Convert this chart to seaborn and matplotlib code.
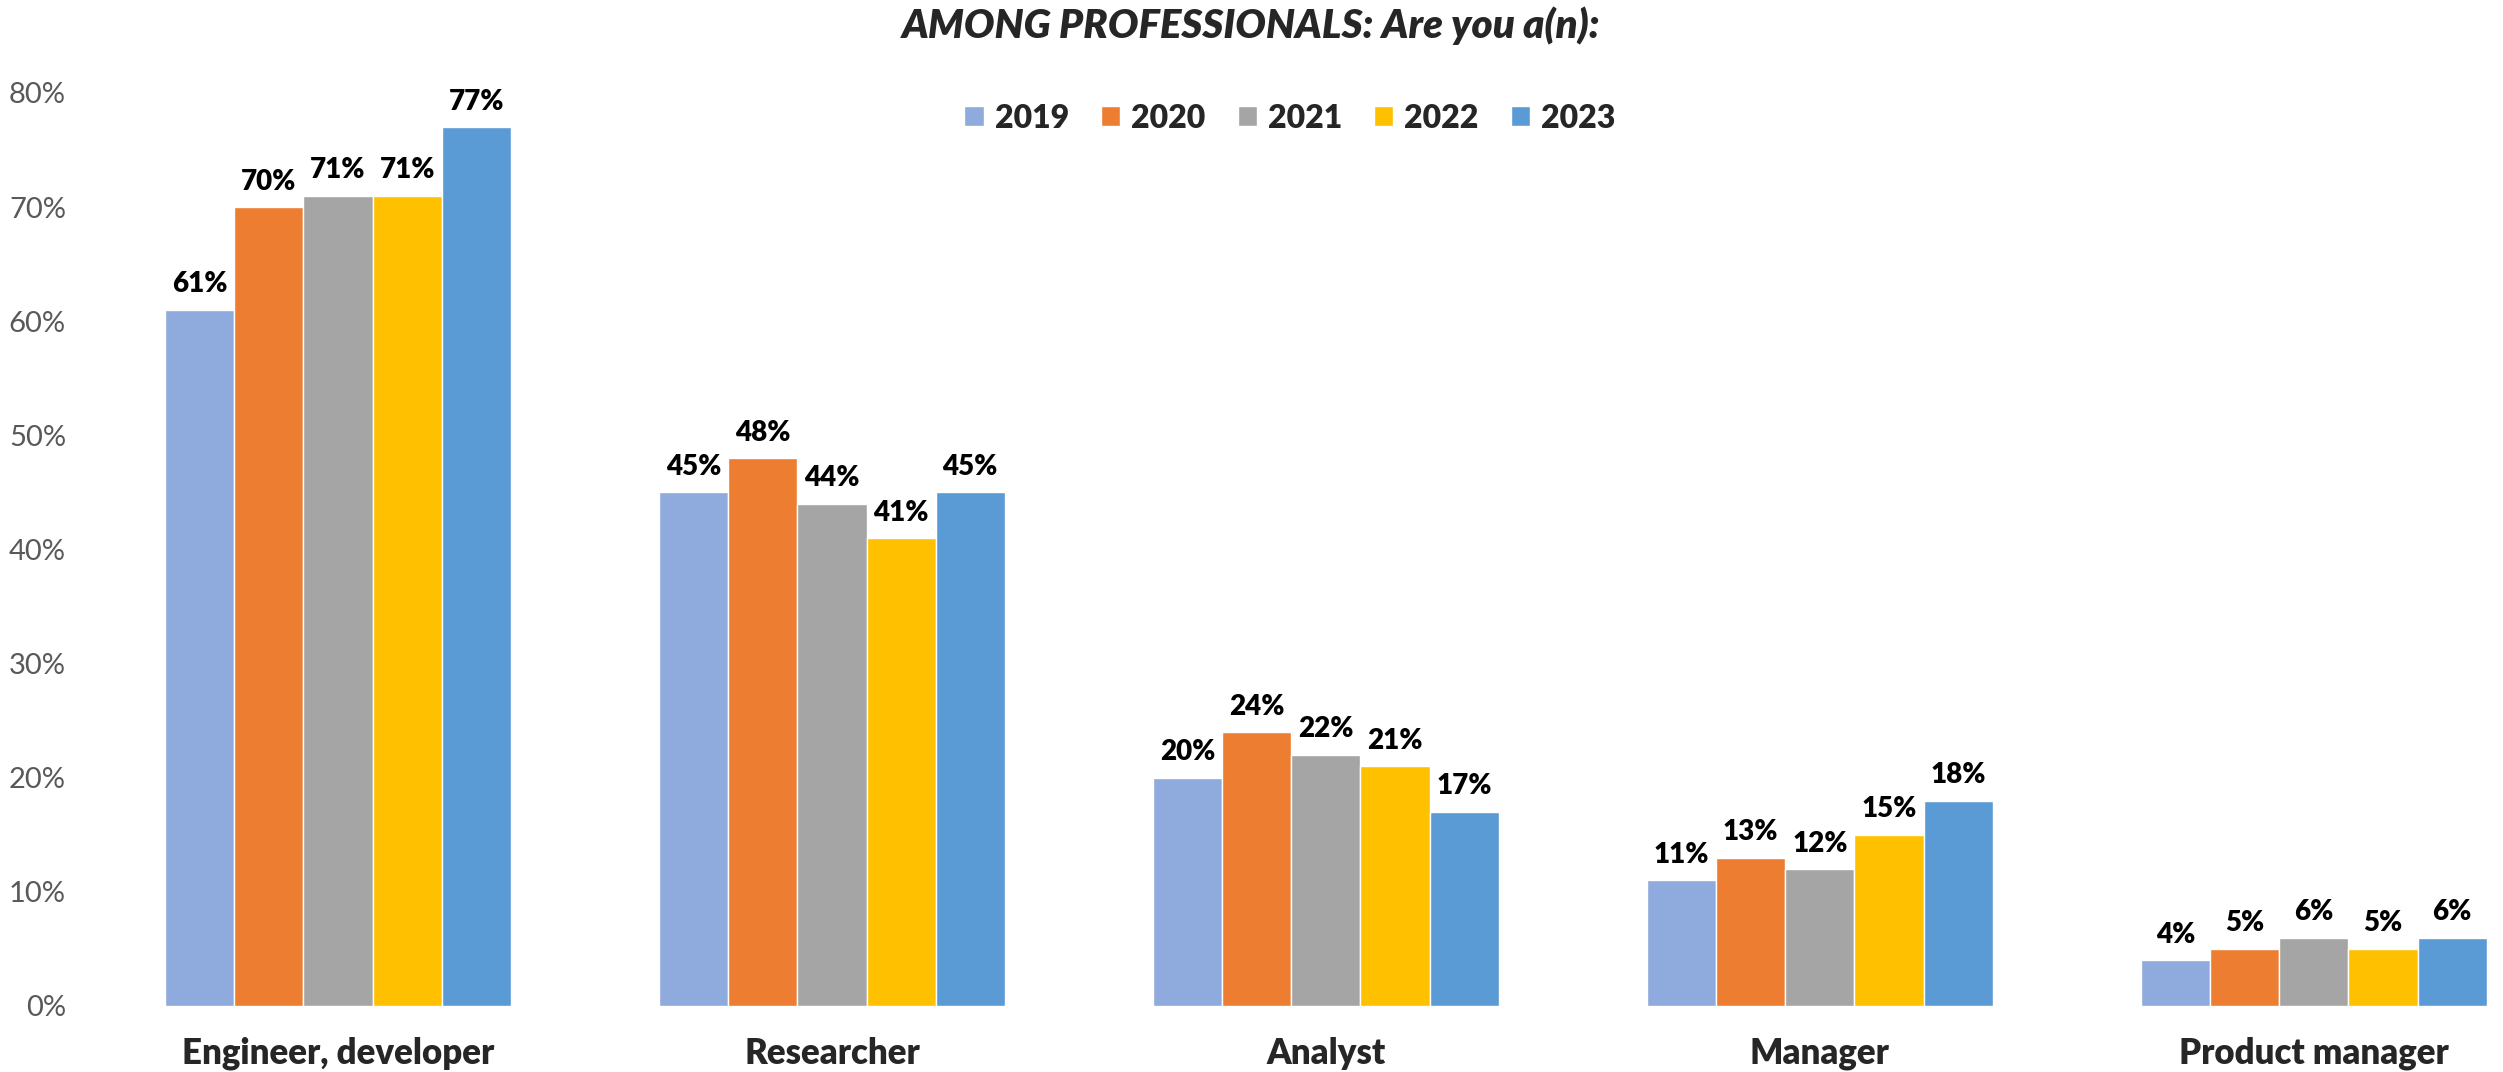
import pandas as pd
import matplotlib.pyplot as plt
import seaborn as sns

# Chart data
roles = ['Engineer, developer', 'Researcher', 'Analyst', 'Manager', 'Product manager']
years = ['2019', '2020', '2021', '2022', '2023']
pct_2019 = [61, 45, 20, 11, 4]
pct_2020 = [70, 48, 24, 13, 5]
pct_2021 = [71, 44, 22, 12, 6]
pct_2022 = [71, 41, 21, 15, 5]
pct_2023 = [77, 45, 17, 18, 6]
colors = ['#8FAADC', '#ED7D31', '#A5A5A5', '#FFC000', '#5B9BD5']

series = [pct_2019, pct_2020, pct_2021, pct_2022, pct_2023]
rows = []
for year, vals in zip(years, series):
    for role, v in zip(roles, vals):
        rows.append({'role': role, 'year': year, 'pct': v})
df = pd.DataFrame(rows)

sns.set_style('white')
plt.rcParams['font.family'] = ['Lato', 'DejaVu Sans']

fig = plt.figure(figsize=(25.03, 10.72), dpi=100)
ax = fig.add_axes([91 / 2503, 66 / 1072, 1 - 91 / 2503, (1006 - 93) / 1072])

sns.barplot(data=df, x='role', y='pct', hue='year', order=roles, hue_order=years,
            palette=colors, width=0.7, gap=0, saturation=1, edgecolor='white',
            linewidth=1, ax=ax)

for cont, vals in zip(ax.containers, series):
    ax.bar_label(cont, labels=[f'{v}%' for v in vals], padding=9,
                 fontsize=20, fontweight='heavy', color='black')

ax.set_ylim(0, 80)
ax.set_xlim(-0.5, 4.383)
ax.set_yticks(range(0, 81, 10))
ax.set_yticklabels([f'{t}%' for t in range(0, 81, 10)], fontsize=21, color='#595959')
ax.tick_params(axis='x', labelsize=25, pad=22, length=0)
ax.tick_params(axis='y', length=0, pad=18)
for lbl in ax.get_xticklabels():
    lbl.set_fontweight('heavy')
ax.set_xlabel('')
ax.set_ylabel('')
sns.despine(ax=ax, left=True, bottom=True)

ax.legend(loc='center', bbox_to_anchor=(1290 / 2503, 1 - 118 / 1072),
          bbox_transform=fig.transFigure, ncol=5, frameon=False,
          prop={'size': 23, 'weight': 'heavy'}, handlelength=0.6, handleheight=0.6,
          columnspacing=1.0, handletextpad=0.35)

fig.text(0.5, 1 - 26 / 1072, 'AMONG PROFESSIONALS: Are you a(n):', ha='center', va='center',
         fontsize=29, fontweight='heavy', fontstyle='italic')

fig.savefig('out.png', dpi=100)
